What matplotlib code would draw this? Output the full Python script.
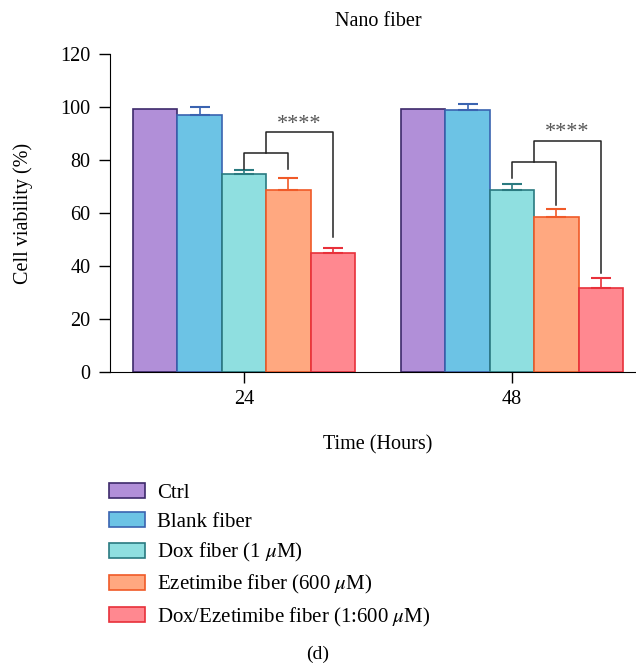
import matplotlib
matplotlib.use("Agg")
import matplotlib.pyplot as plt
import numpy as np

plt.rcParams['font.family'] = ['Liberation Serif', 'DejaVu Serif']
plt.rcParams['mathtext.fontset'] = 'stix'

times = ["24", "48"]
groups = ["Ctrl", "Blank fiber", "Dox fiber (1 $\\mu$M)",
          "Ezetimibe fiber (600 $\\mu$M)", "Dox/Ezetimibe fiber (1:600 $\\mu$M)"]
ctrl = [99.3, 99.3]
blank = [96.8, 98.9]
dox = [74.6, 68.7]
eze = [68.8, 58.6]
dox_eze = [44.8, 31.8]
ctrl_err = [0.0, 0.0]
blank_err = [3.2, 2.4]
dox_err = [1.6, 2.4]
eze_err = [4.3, 2.8]
dox_eze_err = [2.1, 3.8]

means = [ctrl, blank, dox, eze, dox_eze]
errs = [ctrl_err, blank_err, dox_err, eze_err, dox_eze_err]
fills = ["#B18FD8", "#6CC3E5", "#8FDFE0", "#FFA880", "#FF8890"]
edges = ["#3D2A6B", "#3A63B0", "#2A7A80", "#F05A28", "#E8303A"]

fs = 14.5

fig = plt.figure(figsize=(6.36, 6.65), dpi=100)
ax = fig.add_axes([110 / 636, 1 - 372 / 665, 536 / 636, 318 / 665])

x = np.arange(len(times))
w = 0.166
for i in range(5):
    pos = x + (i - 2) * w
    ax.bar(pos, means[i], w, color=fills[i], edgecolor=edges[i], linewidth=1.2,
           label=groups[i], zorder=2)
    e = np.array(errs[i])
    if e.sum() > 0:
        ax.errorbar(pos, means[i], yerr=[np.zeros_like(e), e], fmt="none",
                    ecolor=edges[i], elinewidth=1.2, capsize=7.5, capthick=1.5, zorder=3)

# significance brackets
brackets = [
    # inner y, inner left leg, inner right leg, outer y, outer right leg, star y
    (82.8, 76.6, 76.6, 90.4, 51.0, 93.5),
    (79.4, 73.1, 63.0, 87.2, 37.5, 90.3),
]
for k, (yi, yl, yr, yo, yor, ys) in enumerate(brackets):
    x0 = x[k]
    x1 = x[k] + w
    xm = (x0 + x1) / 2
    x2 = x[k] + 2 * w
    ax.plot([x0, x0, x1, x1], [yl, yi, yi, yr], color="#222222", lw=1.1, zorder=4)
    ax.plot([xm, xm, x2, x2], [yi, yo, yo, yor], color="#222222", lw=1.1, zorder=4)
    ax.text((xm + x2) / 2, ys, "****", ha="center", va="center", fontsize=16,
            color="#555555")

ax.set_xlim(-0.5, 1.5)
ax.set_ylim(0, 120)
ax.set_yticks(np.arange(0, 121, 20))
ax.set_xticks(x)
ax.set_xticklabels(times)
ax.spines["top"].set_visible(False)
ax.spines["right"].set_visible(False)
ax.tick_params(axis="both", direction="out", length=8, width=1, labelsize=fs)
ax.tick_params(axis="y", pad=6)
ax.tick_params(axis="x", pad=5)
ax.set_ylabel("Cell viability (%)", fontsize=fs, labelpad=20)
ax.set_xlabel("Time (Hours)", fontsize=fs, labelpad=19)

fig.text(378 / 636, 1 - 22 / 665, "Nano fiber", ha="center", va="center", fontsize=fs)

fig.legend(loc="upper left", bbox_to_anchor=(109 / 636, 1 - 483 / 665), frameon=False,
           fontsize=15, handlelength=1.75, handleheight=0.75, handletextpad=0.55,
           labelspacing=0.44, borderpad=0, borderaxespad=0)

fig.text(0.5, 1 - 654 / 665, "(d)", ha="center", va="center", fontsize=14)

fig.savefig("out.png", dpi=100)
